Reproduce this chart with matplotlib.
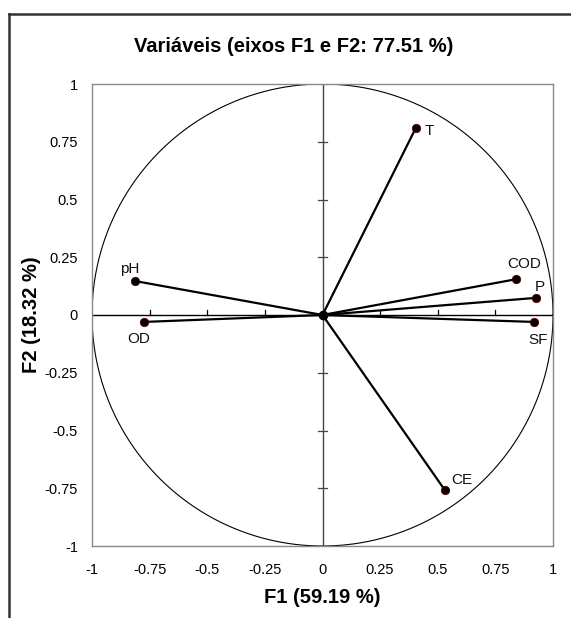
import numpy as np
import matplotlib.pyplot as plt
from matplotlib.lines import Line2D

plt.rcParams['font.family'] = ['Liberation Sans', 'DejaVu Sans']

# Variable loadings on F1 / F2
variables = ["T", "COD", "P", "SF", "pH", "OD", "CE"]
f1 = [0.405, 0.84, 0.925, 0.918, -0.813, -0.774, 0.53]
f2 = [0.81, 0.155, 0.074, -0.03, 0.147, -0.03, -0.757]
# label offsets in points (dx, dy) and horizontal alignment
offsets = [(6, -2, "left"), (6, 11, "center"), (3, 8, "center"), (3, -13, "center"),
           (-4, 9, "center"), (-4, -12, "center"), (5, 7, "left")]

ticks = [-1, -0.75, -0.5, -0.25, 0, 0.25, 0.5, 0.75, 1]
tick_labels = ["-1", "-0.75", "-0.5", "-0.25", "0", "0.25", "0.5", "0.75", "1"]

title = "Variáveis (eixos F1 e F2: 77.51 %)"
xlabel = "F1 (59.19 %)"
ylabel = "F2 (18.32 %)"

W, H = 571, 618
fig = plt.figure(figsize=(W / 100, H / 100), dpi=100)
ax = fig.add_axes([92 / W, 1 - 546 / H, 461 / W, 462 / H])

# correlation circle
t = np.linspace(0, 2 * np.pi, 400)
ax.plot(np.cos(t), np.sin(t), color="black", lw=0.8)

# centre axes with tick marks
ax.axhline(0, color="black", lw=1)
ax.axvline(0, color="#444444", lw=1)
for v in ticks:
    if v in (-1, 0, 1):
        continue
    ax.plot([v, v], [0, 0.022], color="black", lw=0.9)
    ax.plot([-0.018, 0.018], [v, v], color="#444444", lw=0.9)

# vectors
for name, x, y, (dx, dy, ha) in zip(variables, f1, f2, offsets):
    ax.plot([0, x], [0, y], color="black", lw=1.6)
    ax.plot(x, y, "o", color="black", ms=6, mec="#5a0000", mew=0.6)
    ax.annotate(name, (x, y), xytext=(dx, dy), textcoords="offset points",
                ha=ha, va="center", fontsize=11, color="#111111")
ax.plot(0, 0, "o", color="black", ms=6)

ax.set_xlim(-1, 1)
ax.set_ylim(-1, 1)
ax.set_xticks(ticks)
ax.set_xticklabels(tick_labels)
ax.set_yticks(ticks)
ax.set_yticklabels(tick_labels)
ax.tick_params(length=0, labelsize=10.5, pad=10)
ax.tick_params(axis="x", pad=12)
for s in ax.spines.values():
    s.set_color("#888888")
    s.set_linewidth(1)

ax.set_xlabel(xlabel, fontsize=14.5, fontweight="bold", labelpad=8)
ax.set_ylabel(ylabel, fontsize=14.5, fontweight="bold", labelpad=3)
fig.text(294 / W, 1 - 52 / H, title, ha="center", va="baseline",
         fontsize=14.5, fontweight="bold")

# chart area frame (cropped at right and bottom)
fig.add_artist(Line2D([9 / W, 1.05], [1 - 14 / H, 1 - 14 / H], color="#333333", lw=1.8))
fig.add_artist(Line2D([9 / W, 9 / W], [1 - 14 / H, -0.05], color="#333333", lw=1.8))

fig.savefig("out.png", dpi=100)
